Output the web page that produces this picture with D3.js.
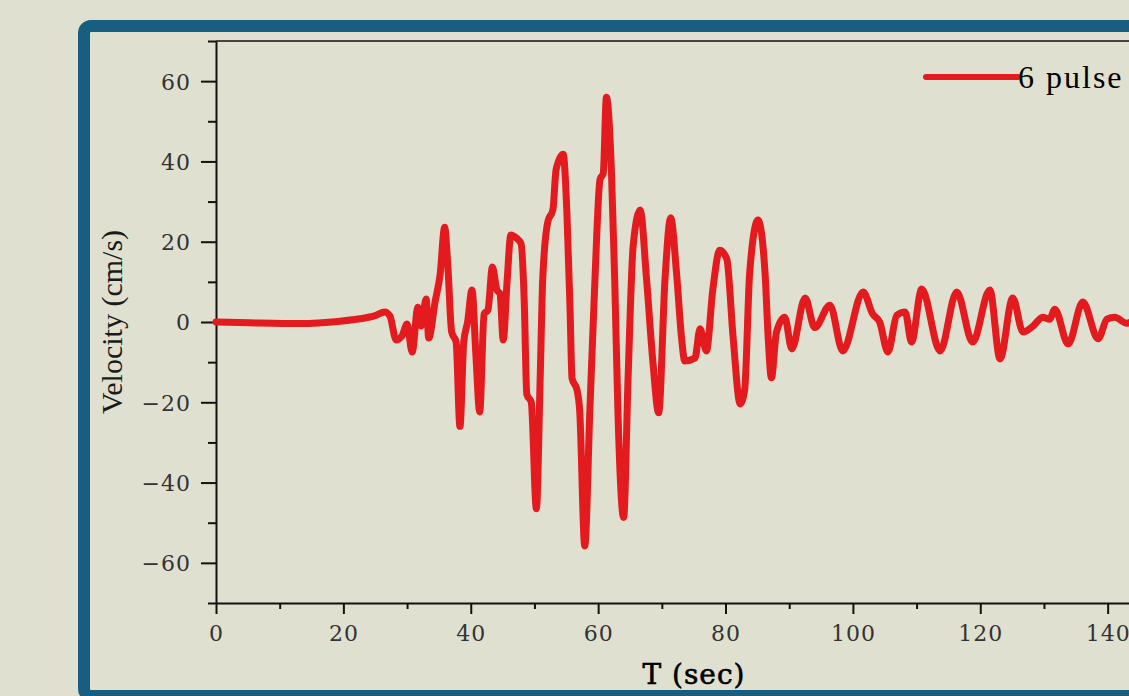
<!DOCTYPE html>
<html>
<head>
<meta charset="utf-8">
<script src="https://cdn.jsdelivr.net/npm/d3@7"></script>
<style>
  html, body { margin: 0; padding: 0; background: #dfe0d0; overflow: hidden; }
  svg { display: block; }
  .tick text { font-family: "DejaVu Serif", serif; font-size: 22px; fill: #333; letter-spacing: 1px; }
  .axis path, .axis line { stroke: #111; stroke-width: 2px; }
</style>
</head>
<body>
<svg id="chart" width="1129" height="696"></svg>
<script>
// time (s) and velocity (cm/s)
const timeSec = [0, 5.3, 13.2, 19.5, 22.6, 25.0, 26.5, 27.3, 28.3, 29.2, 30.0, 30.8, 31.7, 32.2, 33.0, 33.4,
  34.4, 35.2, 35.9, 36.4, 37.0, 37.7, 38.3, 38.9, 39.5, 40.2, 40.8, 41.4, 42.1, 42.7, 43.4, 44.1, 44.6,
  45.1, 45.7, 46.3, 47.1, 47.9, 48.4, 48.8, 49.5, 50.3, 50.9, 51.3, 52.1, 52.9, 53.4, 54.5, 55.1, 55.6,
  55.9, 56.7, 57.1, 57.9, 58.7, 59.5, 60.3, 60.8, 61.3, 62.1, 62.6, 63.1, 64.0, 64.7, 65.5, 66.6, 67.6,
  68.6, 69.5, 70.5, 71.4, 72.3, 73.1, 73.6, 75.2, 76.0, 77.0, 78.0, 79.1, 80.2, 81.2, 82.3, 83.0, 83.8,
  85.1, 86.2, 86.7, 87.2, 88.0, 89.3, 90.4, 92.5, 94.0, 96.4, 98.4, 101.6, 103.1, 104.2, 105.5, 106.9,
  108.2, 109.2, 110.8, 113.7, 116.3, 118.8, 121.5, 123.1, 125.1, 126.7, 128.3, 129.8, 130.9, 131.7,
  133.8, 136.1, 138.5, 139.9, 141.1, 143.0, 145.0, 148.0];
const velocity = [0, -0.2, -0.4, 0.2, 0.8, 1.6, 2.5, 1.5, -4.5, -3.5, -0.5, -7.5, 3.7, -1, 5.7, -4,
  5, 12, 23.6, 14, -2.5, -5, -26, -5, 0, 8, -8, -22.4, 2, 3, 13.7, 8, 7,
  -4.5, 10, 21.7, 21, 19.5, 5, -18, -20, -46.5, -14, 10.7, 25, 28, 38, 41.8, 27, 2.5,
  -14, -17, -22, -55.8, -22, 10.7, 35.6, 37, 56, 37, 10.7, -22, -48.7, -14, 19, 27.9, 10.7,
  -10, -22.6, 10.7, 26, 12.4, -4, -9.7, -9, -1.7, -7.2, 8, 17.9, 15.7, -4, -20.4, -17, 12.4,
  25.4, 12.4, -4, -13.9, -2.5, 1.2, -6.7, 6, -1.4, 4.2, -7.2, 7.5, 2, 0, -7.5, 1.7,
  2.5, -5, 8.2, -7.2, 7.5, -5, 8, -9.2, 6, -2.5, -1, 1.2, 0.7, 3.2,
  -5.5, 5, -4.2, 0.7, 1.2, -0.3, 0.8, 0];
const xTicks = [0, 20, 40, 60, 80, 100, 120, 140];
const yTicks = [-60, -40, -20, 0, 20, 40, 60];
const seriesName = "6 pulse";

const svg = d3.select("#chart");

// blue frame
svg.append("rect")
  .attr("x", 84).attr("y", 26)
  .attr("width", 1120).attr("height", 670)
  .attr("rx", 7)
  .attr("fill", "#dfe0d0")
  .attr("stroke", "#175e80")
  .attr("stroke-width", 12);

const x = d3.scaleLinear().domain([0, 150]).range([216, 216 + 150 * 6.369]);
const y = d3.scaleLinear().domain([-70, 70]).range([603, 41]);

// minor ticks
svg.append("g").attr("class", "axis")
  .attr("transform", "translate(216,0)")
  .call(d3.axisLeft(y).tickValues(d3.range(-70, 71, 20)).tickSize(8).tickFormat(""))
  .call(g => g.select(".domain").remove());
svg.append("g").attr("class", "axis")
  .attr("transform", "translate(0,603)")
  .call(d3.axisBottom(x).tickValues(d3.range(10, 150, 20)).tickSize(6).tickFormat(""))
  .call(g => g.select(".domain").remove());

// major ticks
svg.append("g").attr("class", "axis")
  .attr("transform", "translate(216,0)")
  .call(d3.axisLeft(y).tickValues(yTicks).tickSize(15).tickPadding(10).tickSizeOuter(0))
  .call(g => g.selectAll(".tick text").attr("dy", "0.36em"));
svg.append("g").attr("class", "axis")
  .attr("transform", "translate(0,603)")
  .call(d3.axisBottom(x).tickValues(xTicks).tickSize(11).tickPadding(11).tickSizeOuter(0));

// top frame line
svg.append("line")
  .attr("x1", x(0)).attr("x2", 1129)
  .attr("y1", y(70)).attr("y2", y(70))
  .attr("stroke", "#111").attr("stroke-width", 1.6);

// axis titles
svg.append("text")
  .attr("transform", "translate(122,322) rotate(-90)")
  .attr("text-anchor", "middle")
  .style("font-family", "'Liberation Serif', serif")
  .style("font-size", "30px")
  .style("fill", "#1a1a1a")
  .text("Velocity (cm/s)");

svg.append("text")
  .attr("x", 694).attr("y", 684)
  .attr("text-anchor", "middle")
  .style("font-family", "'DejaVu Serif', serif")
  .style("font-size", "28px")
  .style("letter-spacing", "1px")
  .style("fill", "#000")
  .style("stroke", "#000")
  .style("stroke-width", 0.6)
  .text("T (sec)");

// velocity trace
const points = timeSec.map((t, i) => [t, velocity[i]]);
const line = d3.line()
  .x(d => x(d[0]))
  .y(d => y(d[1]))
  .curve(d3.curveMonotoneX);

svg.append("path")
  .datum(points)
  .attr("d", line)
  .attr("fill", "none")
  .attr("stroke", "#e31b1f")
  .attr("stroke-width", 7)
  .attr("stroke-linejoin", "round")
  .attr("stroke-linecap", "round");

// legend
svg.append("line")
  .attr("x1", 926).attr("x2", 1018)
  .attr("y1", 77).attr("y2", 77)
  .attr("stroke", "#e31b1f")
  .attr("stroke-width", 6)
  .attr("stroke-linecap", "round");
svg.append("text")
  .attr("x", 1018).attr("y", 88)
  .style("font-family", "'Liberation Serif', serif")
  .style("font-size", "32px")
  .style("letter-spacing", "2px")
  .style("fill", "#000")
  .text(seriesName);
</script>
</body>
</html>
